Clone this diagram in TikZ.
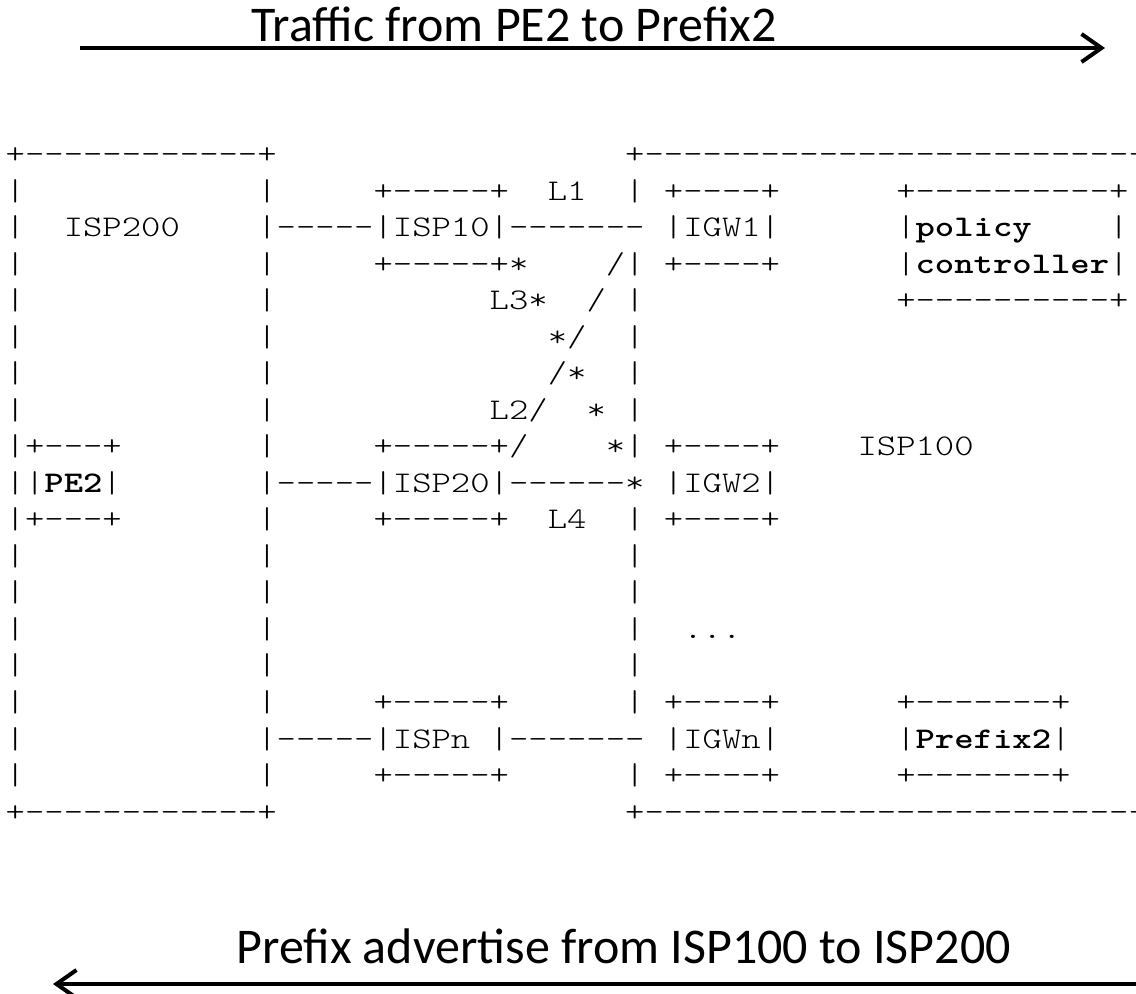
\documentclass[tikz,border=0pt]{standalone}
\usepackage{fontspec}
\usetikzlibrary{arrows.meta}
\newfontfamily\asciifont{lmmonolt10-regular.otf}[FakeStretch=1.229,BoldFont=lmmonolt10-bold.otf,Ligatures=TeXOff]
\newfontfamily\labelfont{Carlito}
\tikzset{
  asc/.style={anchor=base west,inner sep=0pt,font=\asciifont\fontsize{15pt}{15pt}\selectfont},
  flow/.style={line width=2pt,-{Straight Barb[length=10pt,width=14pt]}},
  caption/.style={anchor=base west,inner sep=0pt,font=\labelfont\fontsize{25pt}{25pt}\selectfont}
}
\begin{document}
\begin{tikzpicture}[x=0.5pt,y=-0.5pt]
\useasboundingbox (0,0) rectangle (1136,994);
% traffic direction
\coordinate (trafficL) at (80,48);
\coordinate (trafficR) at (1105,48);
\draw[flow] (trafficL) -- (trafficR);
\node[caption] (trafficlabel) at (251,42) {Traffic from PE2 to Prefix2};
% advertisement direction
\coordinate (advR) at (1140,984);
\coordinate (advL) at (53,984);
\draw[flow] (advR) -- (advL);
\node[caption] (advlabel) at (236,963) {Prefix advertise from ISP100 to ISP200};
% ascii grid: one unit = one character cell
\begin{scope}[shift={(5.3,164)},x=9.68pt,y=-18.25pt]
% ISP200
\node[asc] (isp200top) at (0,0) {+------------+};
\node[asc] (isp200bot) at (0,18) {+------------+};
\foreach \r in {1,...,17} {
  \node[asc] (isp200l\r) at (0,\r) {|};
  \node[asc] (isp200r\r) at (13,\r) {|};
}
\node[asc] (isp200) at (3,2) {ISP200};
\node[asc] (pe2top) at (1,8) {+---+};
\node[asc] (pe2) at (1,9) {|\textbf{PE2}|};
\node[asc] (pe2bot) at (1,10) {+---+};
% ISP100
\node[asc] (isp100top) at (32,0) {+--------------------------};
\node[asc] (isp100bot) at (32,18) {+--------------------------};
\foreach \r in {1,3,4,5,6,7,8,10,11,12,13,14,15,17}
  \node[asc] (isp100l\r) at (32,\r) {|};
\node[asc] (isp100) at (44,8) {ISP100};
% transit ISPs and gateways
\foreach \r in {1,3,8,10,15,17} {
  \node[asc] (ispbox\r) at (19,\r) {+-----+};
  \node[asc] (igwbox\r) at (34,\r) {+----+};
}
\node[asc] (isp10) at (19,2) {|ISP10|};
\node[asc] (isp20) at (19,9) {|ISP20|};
\node[asc] (ispn) at (19,16) {|ISPn};
\node[asc] (ispnr) at (25,16) {|};
\node[asc] (igw1) at (34,2) {|IGW1|};
\node[asc] (igw2) at (34,9) {|IGW2|};
\node[asc] (igwn) at (34,16) {|IGWn|};
\node[asc] (dots) at (35,13) {...};
% links
\foreach \r in {2,9,16}
  \node[asc] (uplink\r) at (14,\r) {-----};
\node[asc] (l1line) at (26,2) {-------};
\node[asc] (l4line) at (26,9) {------*};
\node[asc] (lnline) at (26,16) {-------};
\node[asc] (l1) at (28,1) {L1};
\node[asc] (l4) at (28,10) {L4};
\node[asc] (l3) at (25,4) {L3};
\node[asc] (l2) at (25,7) {L2};
\foreach \c/\r in {26/3,27/4,28/5,29/6,30/7,31/8}
  \node[asc] (star\r) at (\c,\r) {*};
\foreach \c/\r in {31/3,30/4,29/5,28/6,27/7,26/8}
  \node[asc] (slash\r) at (\c,\r) {/};
% policy controller and Prefix2
\node[asc] (pctop) at (46,1) {+----------+};
\node[asc] (pc1) at (46,2) {|\textbf{policy}};
\node[asc] (pc1r) at (57,2) {|};
\node[asc] (pc2) at (46,3) {|\textbf{controller}|};
\node[asc] (pcbot) at (46,4) {+----------+};
\node[asc] (pfxtop) at (46,15) {+-------+};
\node[asc] (pfx) at (46,16) {|\textbf{Prefix2}|};
\node[asc] (pfxbot) at (46,17) {+-------+};
\end{scope}
\end{tikzpicture}
\end{document}
